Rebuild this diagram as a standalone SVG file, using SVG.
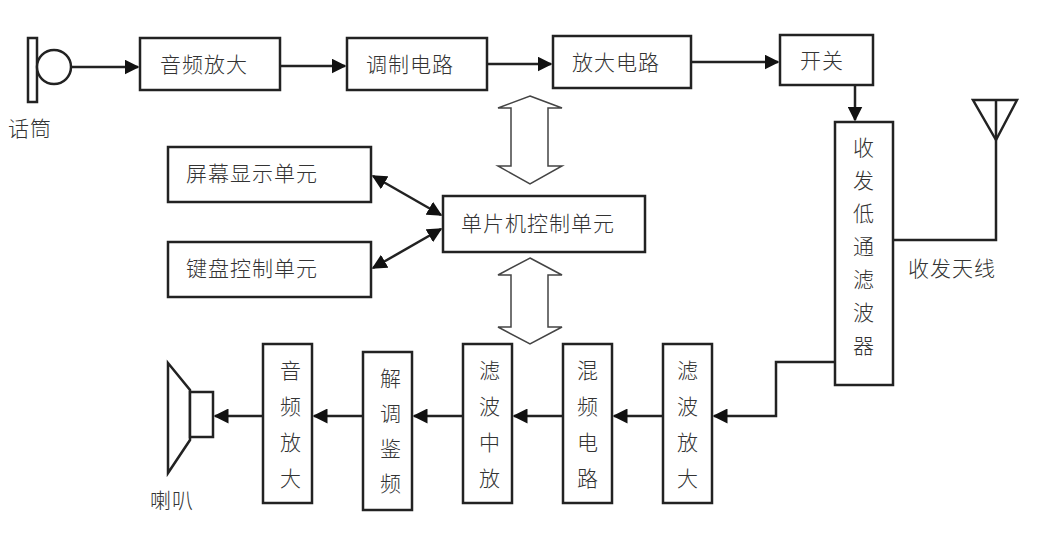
<svg xmlns="http://www.w3.org/2000/svg" width="1046" height="549" viewBox="0 0 1046 549">
<style>
.b{fill:#fff;stroke:#222;stroke-width:2.5}
.l{fill:none;stroke:#222;stroke-width:2.5}
.h{fill:#fff;stroke:#444;stroke-width:1.5}
text{font-family:"Noto Sans CJK SC",sans-serif;font-size:21px;font-weight:300;fill:#333;letter-spacing:1px}
.c{text-anchor:middle}
</style>
<defs>
<marker id="a" viewBox="0 0 10 10" refX="9" refY="5" markerWidth="6" markerHeight="6" orient="auto-start-reverse"><path d="M0,0L10,5L0,10z" fill="#111"/></marker>
</defs>
<g id="connectors">
<path class="l" d="M71,67H138" marker-end="url(#a)"/>
<path class="l" d="M280,66H345" marker-end="url(#a)"/>
<path class="l" d="M487,64H551" marker-end="url(#a)"/>
<path class="l" d="M691,62H778" marker-end="url(#a)"/>
<path class="l" d="M855,86V120" marker-end="url(#a)"/>
<path class="l" d="M893,240H996V100"/>
<path class="l" d="M835,362H776V416H714" marker-end="url(#a)"/>
<path class="l" d="M663,416H614" marker-end="url(#a)"/>
<path class="l" d="M563,416H514" marker-end="url(#a)"/>
<path class="l" d="M463,416H414" marker-end="url(#a)"/>
<path class="l" d="M363,416H314" marker-end="url(#a)"/>
<path class="l" d="M263,416H215" marker-end="url(#a)"/>
<path class="l" d="M373,176L441,215" marker-start="url(#a)" marker-end="url(#a)"/>
<path class="l" d="M373,268L441,229" marker-start="url(#a)" marker-end="url(#a)"/>
<path class="h" d="M530,96L562,108H548V166H562L530,184L498,166H511V108H498Z"/>
<path class="h" d="M530,258L562,275H548V327H562L530,344L498,327H511V275H498Z"/>
</g>
<g id="mic"><rect class="b" x="28" y="38" width="9" height="64" stroke-width="2"/><circle class="b" cx="54" cy="67" r="17" stroke-width="2"/><text x="8" y="136">话筒</text></g>
<g id="n1"><rect class="b" x="140" y="38" width="140" height="52"/><text x="160" y="72">音频放大</text></g>
<g id="n2"><rect class="b" x="347" y="38" width="140" height="52"/><text x="366" y="72">调制电路</text></g>
<g id="n3"><rect class="b" x="553" y="36" width="138" height="52"/><text x="572" y="70">放大电路</text></g>
<g id="n4"><rect class="b" x="780" y="35" width="93" height="50"/><text x="800" y="68">开关</text></g>
<g id="n5"><rect class="b" x="835" y="122" width="58" height="263"/>
<text class="c" x="864" y="155">收</text><text class="c" x="864" y="188">发</text><text class="c" x="864" y="221">低</text><text class="c" x="864" y="254">通</text><text class="c" x="864" y="287">滤</text><text class="c" x="864" y="320">波</text><text class="c" x="864" y="353">器</text></g>
<g id="antenna"><path class="l" d="M973,100H1017L996,140Z" stroke-width="2"/><text x="908" y="276">收发天线</text></g>
<g id="mcu"><rect class="b" x="443" y="196" width="202" height="56"/><text x="461" y="231">单片机控制单元</text></g>
<g id="disp"><rect class="b" x="168" y="147" width="203" height="55"/><text x="186" y="181">屏幕显示单元</text></g>
<g id="kbd"><rect class="b" x="168" y="242" width="203" height="55"/><text x="186" y="276">键盘控制单元</text></g>
<g id="r1"><rect class="b" x="663" y="344" width="49" height="159"/><text class="c" x="688" y="378">滤</text><text class="c" x="688" y="414">波</text><text class="c" x="688" y="450">放</text><text class="c" x="688" y="486">大</text></g>
<g id="r2"><rect class="b" x="563" y="344" width="49" height="159"/><text class="c" x="588" y="378">混</text><text class="c" x="588" y="414">频</text><text class="c" x="588" y="450">电</text><text class="c" x="588" y="486">路</text></g>
<g id="r3"><rect class="b" x="463" y="344" width="49" height="159"/><text class="c" x="490" y="378">滤</text><text class="c" x="490" y="414">波</text><text class="c" x="490" y="450">中</text><text class="c" x="490" y="486">放</text></g>
<g id="r4"><rect class="b" x="363" y="352" width="49" height="158" stroke-width="3"/><text class="c" x="391" y="386">解</text><text class="c" x="391" y="421">调</text><text class="c" x="391" y="456">鉴</text><text class="c" x="391" y="491">频</text></g>
<g id="r5"><rect class="b" x="263" y="344" width="49" height="159"/><text class="c" x="291" y="378">音</text><text class="c" x="291" y="414">频</text><text class="c" x="291" y="450">放</text><text class="c" x="291" y="486">大</text></g>
<g id="speaker"><path class="l" d="M168,363L190,390V440L168,473Z" stroke-width="2"/><rect class="b" x="190" y="392" width="23" height="45" stroke-width="2"/><text x="150" y="508">喇叭</text></g>
</svg>
